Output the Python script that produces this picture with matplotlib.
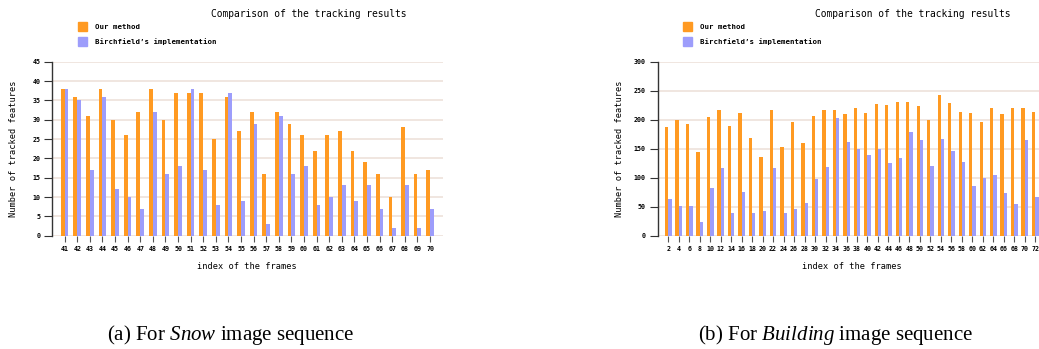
import numpy as np
import matplotlib
matplotlib.use("Agg")
from matplotlib import pyplot as plt
from matplotlib.patches import Rectangle

# Snow sequence (frames 41..70)
snow_frames = list(range(41, 71))
snow_ours = [38, 36, 31, 38, 30, 26, 32, 38, 30, 37, 37, 37, 25, 36, 27,
             32, 16, 32, 29, 26, 22, 26, 27, 22, 19, 16, 10, 28, 16, 17]
snow_birch = [38, 35, 17, 36, 12, 10, 7, 32, 16, 18, 38, 17, 8, 37, 9,
              29, 3, 31, 16, 18, 8, 10, 13, 9, 13, 7, 2, 13, 2, 7]

# Building sequence (frames 2..72, even)
build_frames = list(range(2, 73, 2))
build_ours = [188, 200, 193, 145, 205, 217, 189, 212, 168, 136, 216, 153,
              196, 160, 206, 216, 216, 210, 221, 212, 227, 225, 230, 230,
              224, 200, 242, 228, 213, 212, 196, 220, 209, 220, 221, 213]
build_birch = [63, 52, 51, 24, 82, 117, 39, 75, 40, 42, 116, 40,
               46, 56, 98, 118, 203, 161, 150, 139, 150, 125, 134, 178,
               165, 121, 166, 146, 127, 85, 100, 104, 74, 54, 165, 66]

legend_labels = ["Our method", "Birchfield\u2019s implementation"]
title = "Comparison of the tracking results"
xlabel = "index of the frames"
ylabel = "Number of tracked features"

ORANGE = "#ff9a22"
BLUE = "#9d9dfb"
GRID = "#eee2da"
MONO = "DejaVu Sans Mono"

plt.rcParams["mathtext.fontset"] = "custom"
plt.rcParams["mathtext.rm"] = "Liberation Serif"
plt.rcParams["mathtext.it"] = "Liberation Serif:italic"

W, H = 1039, 349
fig = plt.figure(figsize=(W / 100, H / 100), dpi=100)


def px(x, y):
    # pixel position -> figure fraction
    return x / W, 1 - y / H


def draw_chart(left_px, width_px, frames, ours, birch, ymax, ystep, bw,
               title_x, legend_x, caption, caption_x, ylabel_x):
    b = px(0, 235.7)[1]
    t = px(0, 61.7)[1]
    ax = fig.add_axes([left_px / W, b, width_px / W, t - b])
    x = np.arange(len(frames))
    ax.bar(x - bw / 2, ours, width=bw, color=ORANGE, zorder=3)
    ax.bar(x + bw / 2, birch, width=bw, color=BLUE, zorder=3)
    ax.set_xlim(-1, len(frames))
    ax.set_ylim(0, ymax)
    ax.set_yticks(np.arange(0, ymax + 1, ystep))
    ax.set_xticks(x)
    ax.set_xticklabels([str(f) for f in frames])
    ax.yaxis.grid(True, color=GRID, linewidth=1.2, zorder=0)
    for s in ("top", "right", "bottom"):
        ax.spines[s].set_visible(False)
    ax.spines["left"].set_color("#333333")
    ax.spines["left"].set_linewidth(1)
    ax.tick_params(axis="y", length=5.5, width=0.8, color="#333333", pad=3)
    ax.tick_params(axis="x", length=4.5, width=0.8, color="#555555", pad=3)
    for lab in ax.get_xticklabels() + ax.get_yticklabels():
        lab.set_fontfamily(MONO)
        lab.set_fontweight("bold")
        lab.set_fontsize(4.8)
    ax.set_xlabel(xlabel, fontfamily=MONO, fontsize=6.2, labelpad=7)
    ax.set_ylabel(ylabel, fontfamily=MONO, fontsize=6.2)
    # y label placed in figure coords (pixel x, centred on the axis)
    ax.yaxis.set_label_coords(ylabel_x / W, px(0, 149)[1],
                              transform=fig.transFigure)
    ax.yaxis.label.set_verticalalignment("center")

    fig.text(*px(title_x, 14), title, fontfamily=MONO, fontsize=6.9,
             ha="center", va="center")
    for i, (lab, col) in enumerate(zip(legend_labels, [ORANGE, BLUE])):
        yc = 26.7 + i * 14.5
        x0, y0 = px(legend_x, yc + 4.5)
        fig.patches.append(Rectangle((x0, y0), 9 / W, 9 / H, color=col,
                                     transform=fig.transFigure, figure=fig))
        fig.text(*px(legend_x + 17, yc), lab, fontfamily=MONO,
                 fontweight="bold", fontsize=5.3, ha="left", va="center")
    fig.text(*px(caption_x, 335), caption, fontfamily="Liberation Serif",
             fontsize=15, ha="center", va="center")
    return ax


draw_chart(52, 390.7, snow_frames, snow_ours, snow_birch, 45, 5, 0.3,
           308.5, 77.7, r"(a) For $\it{Snow}$ image sequence", 231, 14)
draw_chart(657.7, 388.1, build_frames, build_ours, build_birch, 300, 50, 0.32,
           913, 683, r"(b) For $\it{Building}$ image sequence", 835, 620)

fig.savefig("out.png", dpi=100)
